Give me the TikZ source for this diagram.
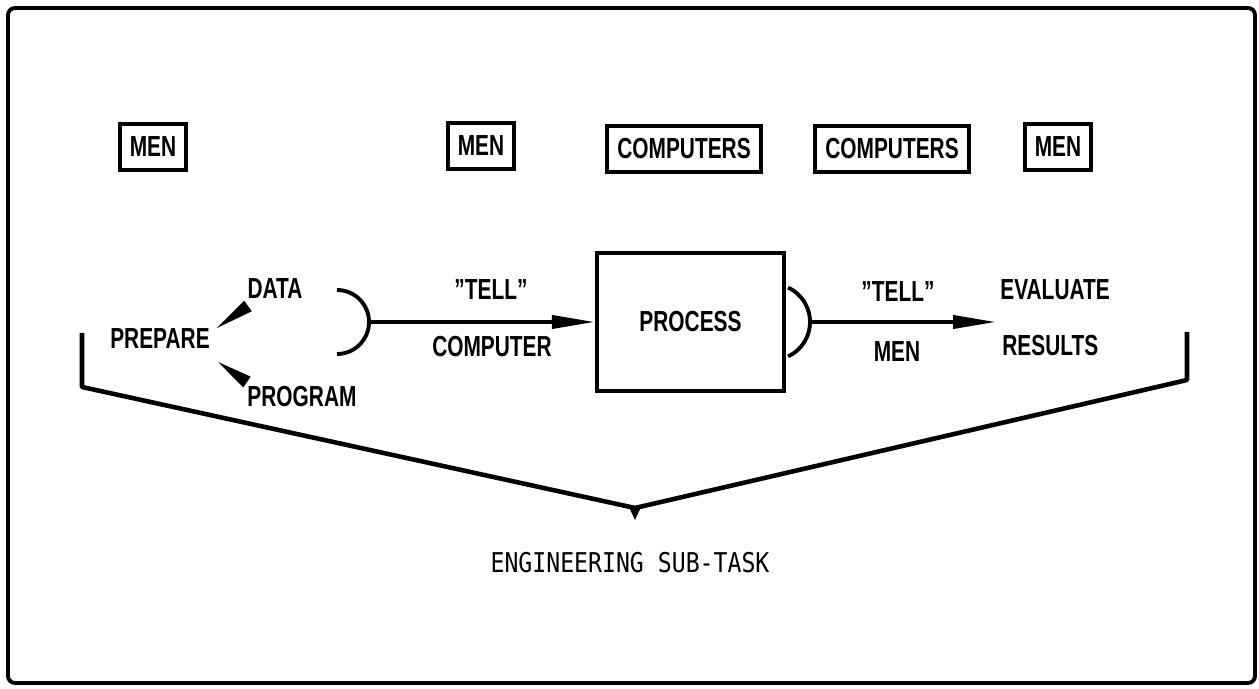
\documentclass[tikz,border=0pt]{standalone}
\usepackage{fontspec}
\setmainfont{Liberation Sans}[FakeStretch=0.72]
\newfontfamily\stencil{DejaVu Sans Mono}[FakeStretch=0.85]
\usetikzlibrary{arrows.meta, positioning, calc}

\begin{document}
\begin{tikzpicture}[
  every node/.style={font=\fontsize{16.5}{18}\selectfont\bfseries},
  who/.style={draw=black, line width=2.4pt, minimum height=0.92cm, inner xsep=0.2cm, inner ysep=0pt},
  label/.style={inner sep=0pt},
  procbox/.style={draw=black, line width=2.4pt, minimum width=3.74cm, minimum height=2.76cm},
  line/.style={line width=2.2pt, draw=black},
  arrow/.style={line, -{Triangle[length=0.86cm, width=0.26cm]}},
  bracket/.style={line width=2.6pt, draw=black, line join=round},
  caption/.style={font=\stencil\fontsize{15.5}{18}\selectfont}
]
\useasboundingbox (0,0) rectangle (25.18,13.78);

% Frame
\draw[line width=2.2pt, rounded corners=4pt] (0.16,0.12) rectangle (25.1,13.62);

% === WHO DOES IT (top row) ===
\node[who] (menA)  at (3.06,10.84)  {MEN};
\node[who] (menB)  at (9.62,10.86)  {MEN};
\node[who] (compA) at (13.68,10.8)  {COMPUTERS};
\node[who] (compB) at (17.84,10.8)  {COMPUTERS};
\node[who] (menC)  at (21.16,10.84) {MEN};

% === FLOW ===
\node[label] (prepare)  at (3.2,7.0)    {PREPARE};
\node[label] (data)     at (5.5,8.0)    {DATA};
\node[label] (program)  at (6.04,5.84)  {PROGRAM};
\node[label] (tellA)    at (9.82,7.98)  {"TELL"};
\node[label] (computer) at (9.84,6.84)  {COMPUTER};
\node[procbox] (process) at (13.81,7.34) {PROCESS};
\node[label] (tellB)    at (17.96,7.94) {"TELL"};
\node[label] (menlbl)   at (17.94,6.74) {MEN};
\node[label, anchor=west] (evaluate) at (20.0,7.98) {EVALUATE};
\node[label, anchor=west] (results)  at (20.04,6.86) {RESULTS};

% Prepare spikes
\coordinate (spA1) at (4.34,7.22);
\coordinate (spA2) at (4.96,7.66);
\coordinate (spB1) at (4.36,6.54);
\coordinate (spB2) at (4.94,6.14);
\fill (spA1) -- ($(spA2)!0.13cm!90:(spA1)$) -- ($(spA2)!0.13cm!-90:(spA1)$) -- cycle;
\fill (spB1) -- ($(spB2)!0.13cm!90:(spB1)$) -- ($(spB2)!0.13cm!-90:(spB1)$) -- cycle;

% Joins and arrows
\coordinate (arcA)  at (6.74,7.34);
\coordinate (joinA) at (7.38,7.34);
\coordinate (arcB)  at (15.44,7.34);
\coordinate (joinB) at (16.2,7.34);
\coordinate (tipB)  at (19.92,7.34);
\draw[line] ([shift={(90:0.64)}]arcA) arc (90:-90:0.64);
\draw[line] ([shift={(65:0.76)}]arcB) arc (65:-65:0.76);
\draw[arrow] (joinA) -- (process.west);
\draw[arrow] (joinB) -- (tipB);

% === SUB-TASK BRACKET ===
\coordinate (brL)  at (1.64,7.12);
\coordinate (crL)  at (1.64,6.04);
\coordinate (vtip) at (12.7,3.62);
\coordinate (crR)  at (23.74,6.18);
\coordinate (brR)  at (23.74,7.14);
\draw[bracket] (brL) -- (crL) -- (vtip) -- (crR) -- (brR);
\fill[shift={(vtip)}] (-0.13,0.04) -- (0.13,0.04) -- (0,-0.24) -- cycle;

\node[caption] (subtask) at (12.6,2.52) {ENGINEERING SUB-TASK};

\end{tikzpicture}
\end{document}
